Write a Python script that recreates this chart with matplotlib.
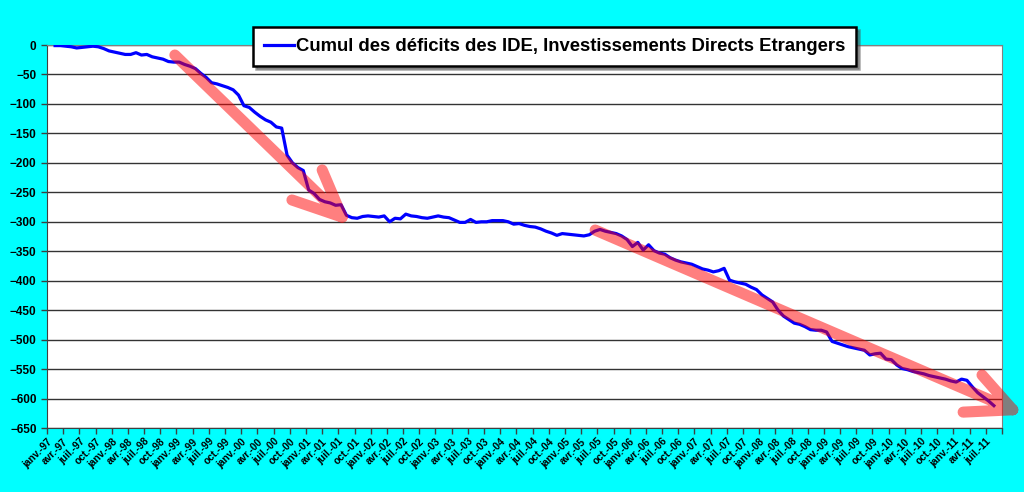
import numpy as np
import matplotlib.pyplot as plt

plt.rcParams['font.family'] = ['Liberation Sans', 'DejaVu Sans']

# Month labels (one every quarter) from janv-97 to juil-11
months_fr = ['janv.', 'avr.', 'juil.', 'oct.']
tick_labels = [f'{months_fr[q]}-{(97 + y) % 100:02d}'
               for y in range(15) for q in range(4)][:59]

# Cumulated deficit (monthly values, févr-97 .. août-11)
cumul = [-1, -1, -2, -3, -5, -4, -3, -2, -3, -6,
         -10, -12, -14, -16, -16, -13, -17, -16, -20, -22,
         -24, -28, -29, -29, -33, -36, -40, -48, -55, -64,
         -66, -69, -72, -76, -85, -103, -106, -114, -121, -127,
         -131, -139, -141, -187, -200, -208, -213, -246, -252, -262,
         -266, -268, -272, -271, -289, -293, -294, -291, -290, -291,
         -292, -290, -300, -294, -295, -287, -290, -291, -293, -294,
         -292, -290, -292, -293, -297, -301, -301, -296, -301, -300,
         -300, -298, -298, -298, -300, -304, -303, -306, -308, -309,
         -312, -316, -319, -323, -320, -321, -322, -323, -324, -322,
         -316, -313, -316, -318, -320, -324, -330, -342, -335, -348,
         -339, -349, -353, -355, -361, -365, -368, -370, -372, -376,
         -380, -382, -385, -383, -379, -399, -402, -404, -406, -411,
         -415, -424, -430, -436, -450, -460, -466, -472, -474, -478,
         -483, -484, -484, -487, -503, -506, -509, -512, -514, -516,
         -518, -526, -524, -523, -533, -534, -543, -549, -551, -554,
         -556, -558, -561, -563, -565, -567, -570, -572, -567, -569,
         -580, -590, -597, -604, -612]
x = np.arange(len(cumul)) + 1.5

# Hand-drawn red trend arrows (data coordinates): shaft, then head (stroke - tip - stroke)
arrow1_x = [23.7, 54.7, np.nan, 51.0, 54.7, 45.4]
arrow1_y = [-17, -292, np.nan, -212, -292, -263]
arrow2_x = [101.6, 179.0, np.nan, 173.3, 179.0, 169.8]
arrow2_y = [-314, -619, np.nan, -560, -619, -623]

fig = plt.figure(figsize=(10.24, 4.92), dpi=100, facecolor='#00FFFF')
ax = fig.add_axes([0.0459, 0.130, 0.9326, 0.7785])
ax.set_facecolor('white')

ax.plot(x, cumul, color='#0000FF', linewidth=2.3,
        label='Cumul des déficits des IDE, Investissements Directs Etrangers',
        zorder=3)

for ax_x, ax_y in [(arrow1_x, arrow1_y), (arrow2_x, arrow2_y)]:
    ax.plot(ax_x, ax_y, color='red', alpha=0.5, linewidth=8,
            solid_capstyle='round', solid_joinstyle='round',
            zorder=4, clip_on=False)

ax.set_xlim(0, 177)
ax.set_ylim(-650, 0)
ax.set_yticks(np.arange(-650, 1, 50))
ax.yaxis.grid(True, color='#333333', linewidth=1)
ax.set_axisbelow(True)

xt = np.arange(0, 178, 3)
ax.set_xticks(xt)
ax.set_xticklabels(tick_labels + [''], rotation=45, ha='right',
                   rotation_mode='anchor', fontsize=7.3, fontweight='bold')
for lab in ax.get_yticklabels():
    lab.set_fontweight('bold')
    lab.set_fontsize(8.5)
ax.tick_params(axis='both', direction='out', length=4, width=1, color='#404040')
ax.tick_params(axis='x', pad=2)

for side in ['top', 'right']:
    ax.spines[side].set_color('#808080')
ax.spines['left'].set_color('#404040')
ax.spines['bottom'].set_color('#404040')

leg = ax.legend(loc='center', bbox_to_anchor=(0.5415, 0.905),
                bbox_transform=fig.transFigure, frameon=True, fancybox=False,
                shadow=True, handlelength=1.6, handletextpad=0.1,
                borderpad=0.6, prop={'weight': 'bold', 'size': 13.3})
leg.get_frame().set_edgecolor('black')
leg.get_frame().set_linewidth(1.8)

plt.savefig('out.png', dpi=100, facecolor=fig.get_facecolor())
